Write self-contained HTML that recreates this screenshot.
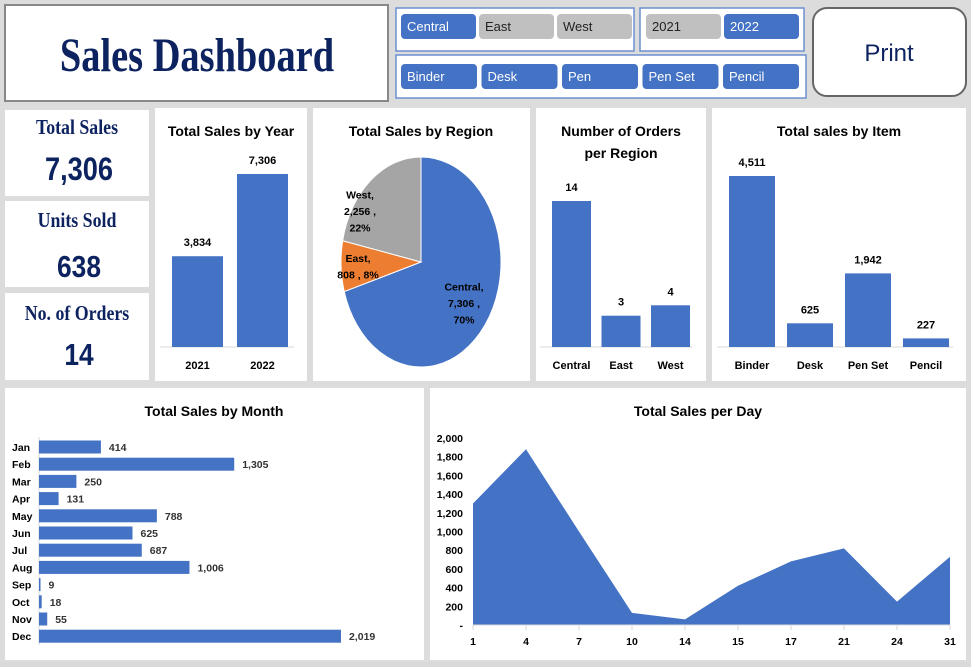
<!DOCTYPE html>
<html><head><meta charset="utf-8">
<style>
body{margin:0;width:971px;height:662px;overflow:hidden;background:#d9d9d9;font-family:"Liberation Sans",sans-serif;}
svg text{font-family:"Liberation Sans Narrow","Liberation Sans",sans-serif;}
svg text.serif{font-family:"Liberation Serif",serif;}
</style></head>
<body>
<svg id="s" width="971" height="662" viewBox="0 0 971 662" xmlns="http://www.w3.org/2000/svg">
<rect x="0" y="0" width="971" height="662" fill="#dcdcdc"/>
<rect x="5" y="5" width="383" height="96" fill="#fff" stroke="#888" stroke-width="2"/>
<text class="serif" x="197" y="71" text-anchor="middle" font-weight="bold" font-size="48" fill="#0d2360" transform="translate(197 0) scale(0.8 1) translate(-197 0)">Sales Dashboard</text>
<g id="slicers"></g>
<rect x="813" y="8" width="153" height="88" rx="14" fill="#fff" stroke="#666" stroke-width="2"/>
<text x="889" y="61" text-anchor="middle" font-size="24" fill="#0d2360">Print</text>
<rect x="5" y="110" width="144" height="86" fill="#fff"/>
<text class="serif" x="77" y="134" text-anchor="middle" font-weight="bold" font-size="21" fill="#0d2360" transform="translate(77 0) scale(0.85 1) translate(-77 0)">Total Sales</text>
<text x="79" y="180" text-anchor="middle" font-weight="bold" font-size="32" fill="#0d2360" transform="translate(79 0) scale(0.85 1) translate(-79 0)">7,306</text>
<rect x="5" y="201" width="144" height="86" fill="#fff"/>
<text class="serif" x="77" y="227" text-anchor="middle" font-weight="bold" font-size="21" fill="#0d2360" transform="translate(77 0) scale(0.85 1) translate(-77 0)">Units Sold</text>
<text x="79" y="277" text-anchor="middle" font-weight="bold" font-size="31" fill="#0d2360" transform="translate(79 0) scale(0.85 1) translate(-79 0)">638</text>
<rect x="5" y="293" width="144" height="87" fill="#fff"/>
<text class="serif" x="77" y="320" text-anchor="middle" font-weight="bold" font-size="21" fill="#0d2360" transform="translate(77 0) scale(0.85 1) translate(-77 0)">No. of Orders</text>
<text x="79" y="365" text-anchor="middle" font-weight="bold" font-size="31" fill="#0d2360" transform="translate(79 0) scale(0.85 1) translate(-79 0)">14</text>
<rect x="155" y="108" width="152" height="273" fill="#fff"/>
<rect x="313" y="108" width="217" height="273" fill="#fff"/>
<rect x="536" y="108" width="170" height="273" fill="#fff"/>
<rect x="712" y="108" width="254" height="273" fill="#fff"/>
<rect x="5" y="388" width="419" height="272" fill="#fff"/>
<rect x="430" y="388" width="536" height="272" fill="#fff"/>
<g font-weight="bold" font-size="14" fill="#000" text-anchor="middle">
<text x="231" y="136">Total Sales by Year</text>
<text x="421" y="136">Total Sales by Region</text>
<text x="621" y="136">Number of Orders</text>
<text x="621" y="158">per Region</text>
<text x="839" y="136">Total sales by Item</text>
<text x="214" y="416">Total Sales by Month</text>
<text x="698" y="416">Total Sales per Day</text>
</g>
<g id="charts"></g>
</svg>
<script>
const NS="http://www.w3.org/2000/svg";
const svg=document.getElementById('charts');
function el(tag,attrs,parent,txt){const e=document.createElementNS(NS,tag);for(const k in attrs)e.setAttribute(k,attrs[k]);if(txt!==undefined)e.textContent=txt;(parent||svg).appendChild(e);return e;}
const BLUE="#4472c4";

const regionButtons=["Central","East","West"];
const regionSelected=[true,false,false];
const yearButtons=["2021","2022"];
const yearSelected=[false,true];
const itemButtons=["Binder","Desk","Pen","Pen Set","Pencil"];
const sl=document.getElementById('slicers');
function frame(x,y,w,h,name){const r=el('rect',{x:x,y:y,width:w,height:h,fill:'#fff',stroke:'#6d8fd0','stroke-width':1.5},sl);}
frame(396,8,238,43,'region-slicer');frame(640,8,164,43,'year-slicer');frame(396,55,410,43,'item-slicer');
function btn(x,y,w,label,sel){const r=el('rect',{x:x,y:y,width:w,height:25,rx:4,fill:sel?BLUE:'#c0c0c0'},sl);


const t=el('text',{x:x+6,y:y+17,'font-size':13,fill:sel?'#fff':'#222'},sl,label);

}
regionButtons.forEach((b,i)=>btn(401+i*78,14,75,b,regionSelected[i]));
yearButtons.forEach((b,i)=>btn(646+i*78,14,75,b,yearSelected[i]));
itemButtons.forEach((b,i)=>btn(401+i*80.5,64,76,b,true));

function fmt(v){return v.toLocaleString('en-US');}

function vbars(cats,vals,x0,step,bw,base,maxV,maxH,name){
  const sy=v=>maxH*v/maxV;
  el('line',{x1:x0-12,x2:x0+step*cats.length-8,y1:base,y2:base,stroke:'#d9d9d9'});
  cats.forEach((c,i)=>{const h=sy(vals[i]);const x=x0+i*step;
    const r=el('rect',{x:x,y:base-h,width:bw,height:h,fill:BLUE});
    
    
    const t=el('text',{x:x+bw/2,y:base-h-10,'text-anchor':'middle','font-size':11,'font-weight':'bold'},svg,fmt(vals[i]));
    
    
    const l=el('text',{x:x+bw/2,y:base+22,'text-anchor':'middle','font-size':11,'font-weight':'bold'},svg,c);
    
    
  });
}
const yearCats=["2021","2022"];
const yearVals=[3834,7306];
vbars(yearCats,yearVals,172,65,51,347,7306,173,'year');
const orderCats=["Central","East","West"];
const orderVals=[14,3,4];
vbars(orderCats,orderVals,552,49.5,39,347,14,146,'orders');
const itemCats=["Binder","Desk","Pen Set","Pencil"];
const itemVals=[4511,625,1942,227];
vbars(itemCats,itemVals,729,58,46,347,4511,171,'item');

const pieCats=["Central","East","West"];
const pieVals=[7306,808,2256];
const pieColors=[BLUE,"#ed7d31","#a5a5a5"];
const pcx=421,pcy=262,rx=80,ry=105;
const tot=pieVals.reduce((a,b)=>a+b,0);
let ang=0;
const pieLabels=[["Central,","7,306 ,","70%"],["East,","808 , 8%"],["West,","2,256 ,","22%"]];
const pieLabelPos=[[464,303],[358,266],[360,211]];
pieVals.forEach((v,i)=>{const a0=ang,a1=ang+v/tot*2*Math.PI;ang=a1;
  const p=a=>[pcx+rx*Math.sin(a),pcy-ry*Math.cos(a)];
  const [x0,y0]=p(a0),[x1,y1]=p(a1);
  const path=el('path',{d:`M${pcx},${pcy}L${x0},${y0}A${rx},${ry} 0 ${a1-a0>Math.PI?1:0} 1 ${x1},${y1}Z`,fill:pieColors[i],stroke:'#fff','stroke-width':1});
  
  
});
pieLabels.forEach((lines,i)=>{const [lx,ly]=pieLabelPos[i];
  lines.forEach((s,j)=>{const t=el('text',{x:lx,y:ly+(j-(lines.length-1)/2)*16.5+4,'text-anchor':'middle','font-size':10.5,'font-weight':'bold'},svg,s);
    
    });
});

const months=["Jan","Feb","Mar","Apr","May","Jun","Jul","Aug","Sep","Oct","Nov","Dec"];
const monthVals=[414,1305,250,131,788,625,687,1006,9,18,55,2019];
const mx0=39,mW=302,mMax=2019,my0=447,mStep=17.2;
el('line',{x1:mx0,x2:mx0,y1:437,y2:645,stroke:'#d9d9d9'});
months.forEach((m,i)=>{const y=my0+i*mStep;const w=Math.max(1.5,mW*monthVals[i]/mMax);
  const r=el('rect',{x:mx0,y:y-6.5,width:w,height:13,fill:BLUE});
  
  
  const l=el('text',{x:12,y:y+4,'font-size':10.5,'font-weight':'bold'},svg,m);
  
  
  const t=el('text',{x:mx0+w+8,y:y+4,'font-size':10.5,'font-weight':'bold',fill:'#333'},svg,fmt(monthVals[i]));
  
  
});

const days=["1","4","7","10","14","15","17","21","24","31"];
const dayVals=[1300,1880,1000,130,60,420,680,820,250,730];
const yTicks=[0,200,400,600,800,1000,1200,1400,1600,1800,2000];
const ax0=473,ax1=950,ay0=625,ay1=438,yMax=2000;
const dx=i=>ax0+(ax1-ax0)*i/(days.length-1);
const dy=v=>ay0-(ay0-ay1)*v/yMax;
yTicks.forEach(v=>{const t=el('text',{x:463,y:dy(v)+4,'text-anchor':'end','font-size':10.5,'font-weight':'bold'},svg,v===0?'-':fmt(v));
  
  });
let d=`M${dx(0)},${ay0}`;dayVals.forEach((v,i)=>d+=`L${dx(i)},${dy(v)}`);d+=`L${dx(days.length-1)},${ay0}Z`;
const area=el('path',{d:d,fill:BLUE});


el('line',{x1:ax0,x2:ax1,y1:ay0,y2:ay0,stroke:'#d9d9d9'});
days.forEach((c,i)=>{el('line',{x1:dx(i),x2:dx(i),y1:ay0,y2:ay0+5,stroke:'#d9d9d9'});
  const t=el('text',{x:dx(i),y:645,'text-anchor':'middle','font-size':10.5,'font-weight':'bold'},svg,c);
  
  });
</script>
</body></html>
